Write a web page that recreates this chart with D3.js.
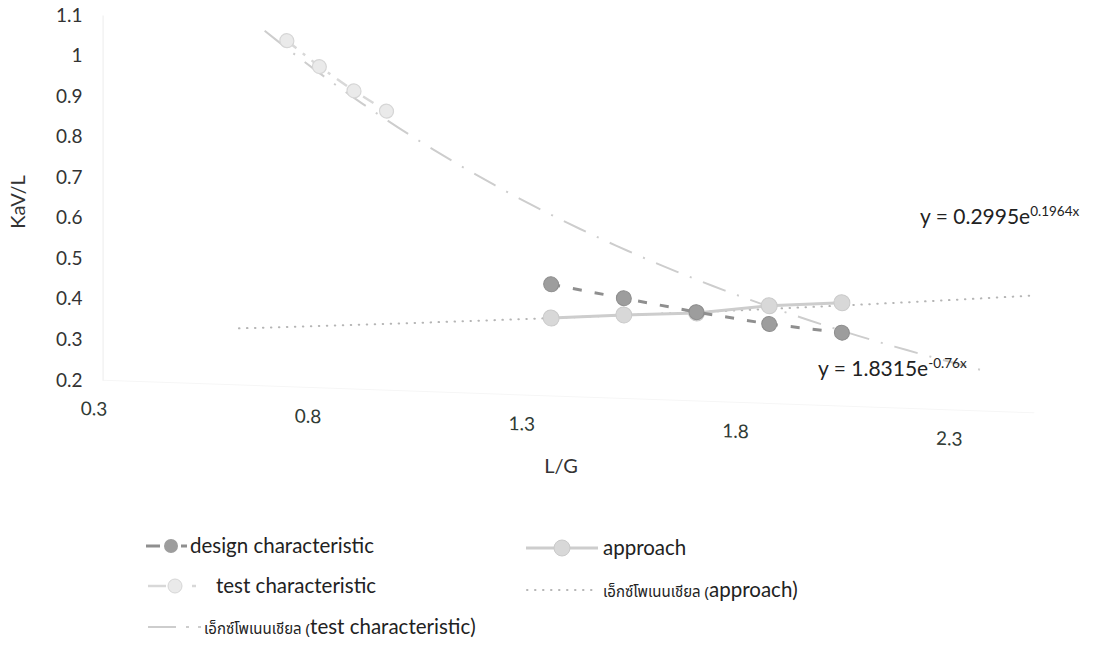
<!DOCTYPE html>
<html>
<head>
<meta charset="utf-8">
<script src="https://cdn.jsdelivr.net/npm/d3@7"></script>
<style>
  html, body { margin: 0; padding: 0; background: #ffffff; }
  svg { display: block; }
  text { font-family: Lato, "Open Sans", sans-serif; }
</style>
</head>
<body>
<svg id="chart" width="1093" height="650"></svg>
<script>
// L/G values shared by the design and approach series
const lgValues = [1.37, 1.54, 1.71, 1.88, 2.05];
const designValues = [0.475, 0.447, 0.419, 0.396, 0.381];
const approachValues = [0.392, 0.406, 0.417, 0.441, 0.455];

// test characteristic measurements
const testLG = [0.752, 0.828, 0.909, 0.985];
const testValues = [1.053, 0.992, 0.935, 0.888];

// exponential trend lines: y = a * e^(b x), with the x span they cover
const approachFit = [0.2995, 0.1964];
const approachFitSpan = [0.64, 2.5];
const testFit = [1.8315, -0.76];
const testFitSpan = [0.7, 2.4];

// axis ticks
const xTicks = [0.3, 0.8, 1.3, 1.8, 2.3];
const yTicks = [0.2, 0.3, 0.4, 0.5, 0.6, 0.7, 0.8, 0.9, 1, 1.1];

const svg = d3.select("#chart");

const x = d3.scaleLinear().domain([0.3, 2.3]).range([93.6, 948.8]);
const y = d3.scaleLinear().domain([0.2, 1.1]).range([380, 15]);

// the plot body leans slightly downward to the right
const lean = 0.035, leanOrigin = 97;
const plot = svg.append("g")
  .attr("transform", `translate(0,${-lean * leanOrigin}) skewY(${Math.atan(lean) * 180 / Math.PI})`);

// y axis (labels + faint axis line)
const yAxis = svg.append("g")
  .attr("transform", `translate(${x(0.3) + 9},0)`)
  .call(d3.axisLeft(y).tickValues(yTicks).tickSize(0).tickPadding(20)
    .tickFormat(d3.format("~g")));
yAxis.select(".domain").attr("stroke", "#efefef").attr("stroke-width", 1.2);
yAxis.selectAll("text").attr("font-size", 19).attr("fill", "#333")
  .attr("font-family", "Lato, sans-serif");

// x axis
const xAxis = plot.append("g")
  .attr("transform", `translate(0,${y(0.2)})`)
  .call(d3.axisBottom(x).tickValues(xTicks).tickSize(0).tickPadding(22)
    .tickFormat(d3.format("~g")));
xAxis.select(".domain").attr("stroke", "#f6f6f6").attr("stroke-width", 1)
  .attr("d", `M${x(0.3) + 9},0H${x(2.5)}`);
xAxis.selectAll("text").attr("font-size", 19).attr("fill", "#2f3a34")
  .attr("font-family", "Lato, sans-serif");

// axis titles
svg.append("text")
  .attr("transform", "translate(25,202) rotate(-90)")
  .attr("text-anchor", "middle")
  .attr("font-size", 20).attr("fill", "#333")
  .text("KaV/L");
svg.append("text")
  .attr("x", 561).attr("y", 473)
  .attr("text-anchor", "middle")
  .attr("font-size", 20).attr("fill", "#333")
  .text("L/G");

const line = d3.line().x(d => x(d[0])).y(d => y(d[1]));

// exponential trend curves
function fitPoints(fit, span) {
  return d3.range(0, 61).map(i => {
    const t = span[0] + (span[1] - span[0]) * i / 60;
    return [t, fit[0] * Math.exp(fit[1] * t)];
  });
}

plot.append("path")
  .attr("d", line(fitPoints(testFit, testFitSpan)))
  .attr("fill", "none").attr("stroke", "#cdcdcd").attr("stroke-width", 2)
  .attr("stroke-dasharray", "24 12 2 12");

plot.append("path")
  .attr("d", line(fitPoints(approachFit, approachFitSpan)))
  .attr("fill", "none").attr("stroke", "#b5b5b5").attr("stroke-width", 2)
  .attr("stroke-linecap", "round")
  .attr("stroke-dasharray", "0.5 7.5");

// test characteristic series
const testPts = testLG.map((v, i) => [v, testValues[i]]);
plot.append("path")
  .attr("d", line(testPts))
  .attr("fill", "none").attr("stroke", "#d8d8d8").attr("stroke-width", 2.5)
  .attr("stroke-dasharray", "12 8 3 8");
plot.selectAll(".test-pt").data(testPts).join("circle")
  .attr("class", "test-pt")
  .attr("cx", d => x(d[0])).attr("cy", d => y(d[1])).attr("r", 7)
  .attr("fill", "#eaeaea").attr("stroke", "#d6d6d6").attr("stroke-width", 1.2);

// approach series
const approachPts = lgValues.map((v, i) => [v, approachValues[i]]);
plot.append("path")
  .attr("d", line(approachPts))
  .attr("fill", "none").attr("stroke", "#cdcdcd").attr("stroke-width", 3);
plot.selectAll(".appr-pt").data(approachPts).join("circle")
  .attr("class", "appr-pt")
  .attr("cx", d => x(d[0])).attr("cy", d => y(d[1])).attr("r", 8)
  .attr("fill", "#d8d8d8").attr("stroke", "#cacaca").attr("stroke-width", 1);

// design characteristic series
const designPts = lgValues.map((v, i) => [v, designValues[i]]);
plot.append("path")
  .attr("d", line(designPts))
  .attr("fill", "none").attr("stroke", "#8f8f8f").attr("stroke-width", 3)
  .attr("stroke-dasharray", "9 13");
plot.selectAll(".design-pt").data(designPts).join("circle")
  .attr("class", "design-pt")
  .attr("cx", d => x(d[0])).attr("cy", d => y(d[1])).attr("r", 7.5)
  .attr("fill", "#9d9d9d").attr("stroke", "#8d8d8d").attr("stroke-width", 1);

// trend line equations
function equation(g, xPos, yPos, base, power) {
  const t = g.append("text").attr("x", xPos).attr("y", yPos)
    .attr("font-size", 21).attr("fill", "#222");
  t.append("tspan").text(base);
  t.append("tspan").attr("font-size", 13.5).attr("dy", -8).text(power);
}
equation(svg, 920, 224, "y = 0.2995e", "0.1964x");
equation(svg, 818, 376, "y = 1.8315e", "-0.76x");

// legend
const legend = svg.append("g");
const thaiFont = "'Noto Sans Thai', 'Noto Sans', 'DejaVu Sans', sans-serif";

function legendText(xPos, yPos, thai, latin) {
  const t = legend.append("text").attr("x", xPos).attr("y", yPos)
    .attr("font-size", 20.5).attr("fill", "#222");
  if (thai) {
    t.append("tspan").attr("font-size", 15).attr("font-family", thaiFont)
      .text(thai);
  }
  t.append("tspan").text(latin);
}

// design characteristic
legend.append("line").attr("x1", 146).attr("x2", 160).attr("y1", 546).attr("y2", 546)
  .attr("stroke", "#8f8f8f").attr("stroke-width", 3);
legend.append("circle").attr("cx", 171).attr("cy", 546).attr("r", 7)
  .attr("fill", "#9d9d9d");
legend.append("line").attr("x1", 181).attr("x2", 187).attr("y1", 546).attr("y2", 546)
  .attr("stroke", "#8f8f8f").attr("stroke-width", 3);
legendText(190, 553, null, "design characteristic");

// test characteristic
legend.append("line").attr("x1", 148).attr("x2", 166).attr("y1", 586).attr("y2", 586)
  .attr("stroke", "#d8d8d8").attr("stroke-width", 2.5);
legend.append("circle").attr("cx", 175).attr("cy", 586).attr("r", 7)
  .attr("fill", "#eaeaea").attr("stroke", "#d6d6d6");
legend.append("line").attr("x1", 192).attr("x2", 196).attr("y1", 586).attr("y2", 586)
  .attr("stroke", "#d8d8d8").attr("stroke-width", 2.5);
legendText(216, 593, null, "test characteristic");

// test exponential
legend.append("line").attr("x1", 148).attr("x2", 176).attr("y1", 627).attr("y2", 627)
  .attr("stroke", "#cdcdcd").attr("stroke-width", 2);
legend.append("line").attr("x1", 186).attr("x2", 189).attr("y1", 627).attr("y2", 627)
  .attr("stroke", "#cdcdcd").attr("stroke-width", 2);
legend.append("line").attr("x1", 198).attr("x2", 201).attr("y1", 627).attr("y2", 627)
  .attr("stroke", "#cdcdcd").attr("stroke-width", 2);
legendText(204, 634, "เอ็กซ์โพเนนเชียล (", "test characteristic)");

// approach
legend.append("line").attr("x1", 526).attr("x2", 598).attr("y1", 548).attr("y2", 548)
  .attr("stroke", "#cdcdcd").attr("stroke-width", 3);
legend.append("circle").attr("cx", 562).attr("cy", 548).attr("r", 8)
  .attr("fill", "#d8d8d8").attr("stroke", "#cacaca");
legendText(603, 555, null, "approach");

// approach exponential
legend.append("line").attr("x1", 527).attr("x2", 598).attr("y1", 590).attr("y2", 590)
  .attr("stroke", "#b5b5b5").attr("stroke-width", 2).attr("stroke-linecap", "round")
  .attr("stroke-dasharray", "0.5 7.5");
legendText(603, 597, "เอ็กซ์โพเนนเชียล (", "approach)");
</script>
</body>
</html>
